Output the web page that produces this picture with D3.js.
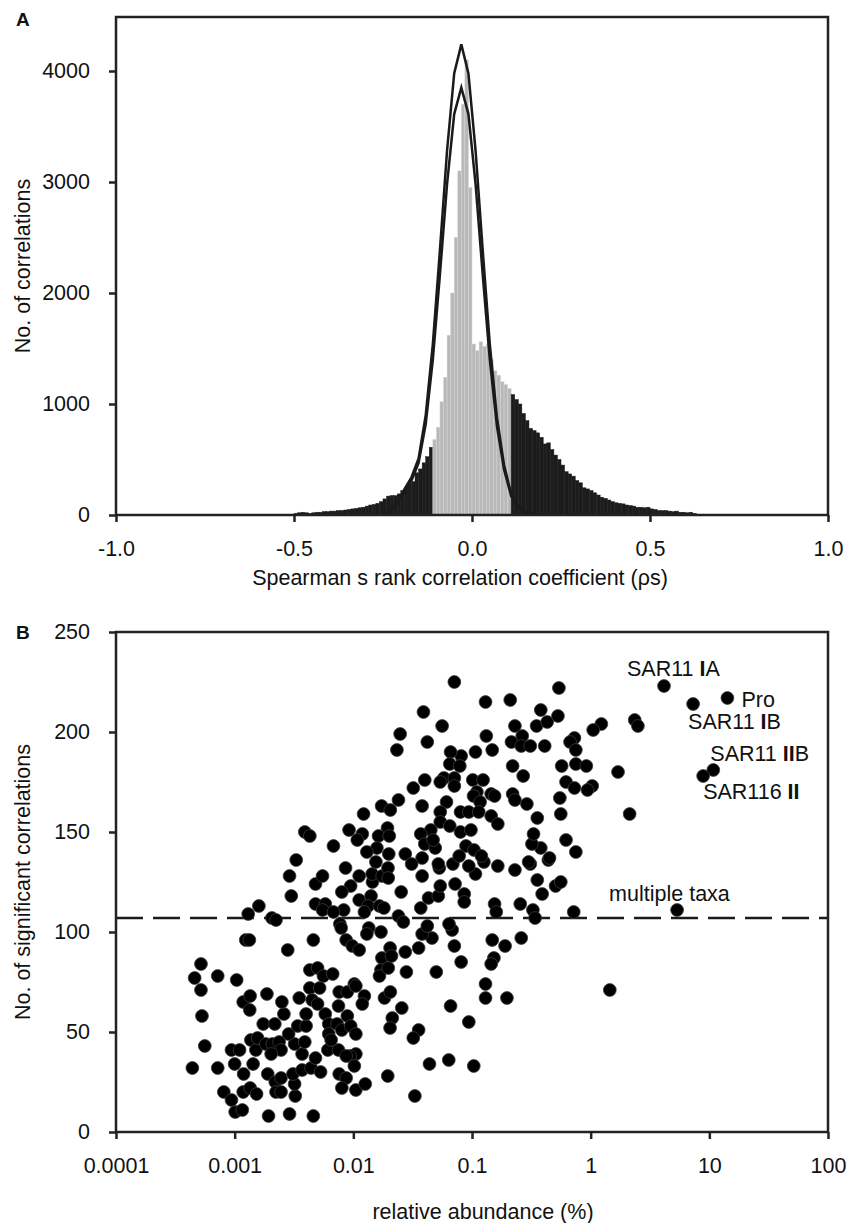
<!DOCTYPE html>
<html>
<head>
<meta charset="utf-8">
<script src="https://cdnjs.cloudflare.com/ajax/libs/d3/7.8.5/d3.min.js"></script>
<style>
  body { margin: 0; background: #fff; }
  svg { display: block; }
  text { font-family: "Liberation Sans", Arial, Helvetica, sans-serif; fill: #111; }
</style>
</head>
<body>
<div class="canva"></div>
<script>
// ---------- panel A data : histogram of Spearman rho (bins of 0.01 starting at -0.50)
const binStartFirst = -0.50;
const binWidth = 0.01;
const histCounts = [
  // -0.50 .. -0.12 (black)
  15, 20, 25, 20, 15, 20, 25, 25, 30, 30,
  35, 35, 40, 40, 45, 50, 55, 60, 65, 70,
  80, 90, 95, 105, 120, 145, 170, 175, 175, 190,
  220, 240, 280, 300, 380, 415, 470, 525, 610,
  // -0.11 .. 0.10 (grey, non significant)
  680, 790, 1020, 1240, 1620, 2000, 2500, 3100, 3700, 4100, 2950,
  1540, 1480, 1560, 1520, 1540, 1400, 1300, 1260, 1200, 1175, 1140,
  // 0.11 .. 0.62 (black)
  1085, 1040, 1000, 915, 850, 780, 760, 740, 700, 640,
  650, 590, 540, 500, 450, 390, 370, 350, 310, 290,
  245, 235, 220, 200, 180, 160, 150, 135, 120, 110,
  105, 100, 90, 85, 80, 70, 70, 65, 70, 55,
  50, 40, 40, 40, 35, 30, 35, 25, 25, 20,
  25, 15
];
const greyFrom = -0.11, greyTo = 0.10;

// fitted curves
const fitRho = [-0.25, -0.23, -0.21, -0.19, -0.17, -0.15, -0.13, -0.11, -0.09, -0.07, -0.05, -0.03,
                -0.01, 0.01, 0.03, 0.05, 0.07, 0.09, 0.11, 0.13, 0.15, 0.17, 0.19];
const fitOuter = [10, 40, 110, 230, 340, 510, 900, 1540, 2390, 3285, 3978, 4240,
                  3978, 3285, 2390, 1540, 880, 450, 190, 75, 25, 8, 2];
const fitInner = [9, 36, 100, 210, 310, 470, 820, 1400, 2170, 2983, 3612, 3850,
                  3612, 2983, 2170, 1400, 800, 410, 172, 68, 22, 7, 2];

const aXTicks = [-1.0, -0.5, 0.0, 0.5, 1.0];
const aYTicks = [0, 1000, 2000, 3000, 4000];

// ---------- panel B data : [relative abundance (%), no. of significant correlations]
const otus = [
  [0.00044,32],[0.00052,84],[0.00046,77],[0.00052,71],[0.00053,58],[0.00056,43],[0.00072,78],[0.00072,32],
  [0.00104,76],[0.00081,20],[0.00094,16],[0.00101,10],[0.00116,11],[0.00100,34],[0.00094,41],[0.00110,41],
  [0.00119,29],[0.00118,20],[0.00135,22],[0.00153,19],[0.00143,34],[0.00118,65],[0.00135,68],[0.00134,61],
  [0.00137,46],[0.00151,41],[0.00156,47],[0.00124,96],[0.00133,96],[0.00130,109],[0.00160,113],[0.00206,107],
  [0.00223,106],[0.00187,69],[0.00174,54],[0.00218,54],[0.00183,44],[0.00208,44],[0.00237,45],[0.00246,41],
  [0.00203,39],[0.00190,29],[0.00220,25],[0.00223,20],[0.00246,27],[0.00246,20],[0.00193,8],[0.0029,9],
  [0.0046,8],[0.00324,18],[0.0032,24],[0.0031,29],[0.0037,31],[0.0044,32],[0.0053,30],[0.0048,37],
  [0.0037,39],[0.0032,44],[0.0039,45],[0.00285,49],[0.0034,53],[0.0040,53],[0.0035,67],[0.0026,59],
  [0.0025,65],[0.0040,59],[0.0043,72],[0.0043,81],[0.0050,82],[0.0056,78],[0.0067,79],[0.0052,72],
  [0.0045,66],[0.0050,64],[0.0058,59],[0.0062,54],[0.0062,49],[0.0061,41],[0.0075,41],[0.0073,54],
  [0.0075,63],[0.0089,58],[0.0076,70],[0.0089,70],[0.0102,74],[0.0105,73],[0.0124,68],[0.0119,64],
  [0.0080,51],[0.0095,53],[0.0105,49],[0.0105,39],[0.0094,38],[0.0102,33],[0.0076,29],[0.0087,27],
  [0.0080,22],[0.0105,21],[0.0126,24],[0.0065,46],[0.0087,38],
  [0.0029,128],[0.0030,118],[0.0028,91],[0.0046,96],[0.0048,114],[0.0058,114],[0.0055,111],[0.0048,124],
  [0.0055,128],[0.0086,132],[0.0112,128],[0.0095,123],[0.0080,120],[0.0083,111],[0.0068,110],[0.0077,104],
  [0.0079,102],[0.0087,96],[0.0098,93],[0.0112,91],[0.0112,116],[0.0141,118],[0.0133,113],[0.0124,110],
  [0.0145,125],[0.0144,129],[0.0155,135],[0.0135,102],[0.0130,99],[0.0171,100],[0.0166,113],[0.0181,112],
  [0.0175,128],[0.0196,132],[0.0197,127],[0.0253,120],[0.024,108],[0.0264,105],[0.0174,87],[0.0171,81],
  [0.0166,78],[0.0197,82],[0.0204,92],[0.021,88],[0.0274,90],[0.028,80],[0.0183,67],[0.0205,70],
  [0.0256,62],[0.0213,57],[0.0204,52],[0.0355,51],[0.032,47],[0.0195,28],[0.033,18],[0.0438,34],
  [0.0637,36],[0.1035,33],[0.050,80],[0.066,63],[0.094,55],[0.081,85],[0.071,93],[0.068,101],
  [0.064,104],[0.046,97],[0.038,99],[0.042,103],[0.0355,92],[0.037,112],[0.043,117],[0.052,118],
  [0.054,123],[0.038,128],[0.053,132],[0.072,124],[0.086,119],[0.086,115],[0.107,129],[0.094,133],
  [0.069,134],[0.155,114],[0.16,110],[0.148,96],[0.19,93],[0.153,87],[0.145,84],[0.13,74],
  [0.13,67],[0.197,67],[0.26,97],[0.255,114],[0.326,111],[0.34,107],[0.23,131],[0.31,134],
  [0.355,126],[0.39,119],[0.506,123],[0.56,125],[0.72,110],[0.165,133],[0.126,135],[0.44,136],
  [1.45,71],
  [0.071,225],[0.13,215],[0.21,216],[0.54,222],[0.38,211],[0.35,203],[0.43,205],[0.53,208],
  [0.039,210],[0.056,203],[0.0248,199],[0.0233,191],[0.042,195],[0.132,198],[0.148,191],[0.23,203],
  [0.215,195],[0.265,198],[0.26,193],[0.31,193],[0.41,193],[0.73,197],[0.67,195],[0.75,191],
  [0.75,184],[0.57,183],[0.62,175],[0.73,172],[0.55,167],[0.56,159],[0.62,146],[0.75,140],
  [0.45,137],[0.38,142],[0.32,144],[0.33,149],[0.355,157],[0.29,164],[0.22,169],[0.23,166],
  [0.22,183],[0.27,178],[0.30,135],[0.107,190],[0.081,188],[0.066,190],[0.065,184],[0.079,183],
  [0.058,177],[0.071,177],[0.071,173],[0.054,175],[0.040,176],[0.1015,176],[0.124,176],[0.11,170],
  [0.103,168],[0.117,165],[0.145,169],[0.155,168],[0.032,172],[0.024,166],[0.038,163],[0.0173,163],
  [0.0205,161],[0.0122,159],[0.061,165],[0.054,160],[0.080,160],[0.094,160],[0.114,160],[0.145,158],
  [0.165,154],[0.054,155],[0.065,153],[0.080,150],[0.098,151],[0.045,151],[0.037,149],[0.040,144],
  [0.049,142],[0.038,137],[0.089,143],[0.104,141],[0.078,138],[0.12,138],[0.0274,139],[0.031,134],
  [0.052,134],[0.0194,152],[0.0163,148],[0.0201,148],[0.0199,139],[0.0158,142],[0.013,140],[0.0119,149],
  [0.0108,146],[0.0092,151],[0.0068,143],[0.0039,150],[0.0043,148],[0.0033,136],[0.047,146],
  [1.23,204],[1.05,201],[2.35,206],[2.5,203],[1.7,180],[2.13,159],[0.92,183],[1.03,173],[0.94,171]
];
// labelled taxa (name split so the roman numerals can be bold)
const labelledTaxa = [
  { name: ["SAR11 ", "I", "A"], abund: 4.15, n: 223 },
  { name: ["", "", "Pro"], abund: 14.2, n: 217 },
  { name: ["SAR11 ", "I", "B"], abund: 7.3, n: 214 },
  { name: ["SAR11 ", "II", "B"], abund: 10.8, n: 181 },
  { name: ["SAR116 ", "II", ""], abund: 8.87, n: 178 },
  { name: ["multiple taxa", "", ""], abund: 5.35, n: 111 }
];
// label placement relative to each dot (px)
const labelOffset = [[-37, -10], [14, 9], [-5, 25], [-3, -9], [0, 23], [-68, -9]];
const sigThreshold = 107;
const bXTicks = [0.0001, 0.001, 0.01, 0.1, 1, 10, 100];
const bYTicks = [0, 50, 100, 150, 200, 250];

// ---------- drawing
const W = 847, H = 1223;
const fontSize = 21.5;
const svg = d3.select(".canva").append("svg")
    .attr("width", W)
    .attr("height", H);

const left = 116, right = 828;
const axisColor = "#222";

function styleAxis(g) {
  g.select(".domain").remove();
  g.selectAll(".tick line").attr("stroke", axisColor).attr("stroke-width", 2.5);
  g.selectAll(".tick text").attr("font-size", fontSize).attr("fill", "#111");
}

// plain hyphen for negative numbers, like the original figure
const fmtRho = d => (d < 0 ? "-" : "") + Math.abs(d).toFixed(1);

// ===== Panel A =====
const aTop = 17, aBottom = 515;
const xA = d3.scaleLinear().domain([-1, 1]).range([left, right]);
const yA = d3.scaleLinear().domain([0, (aBottom - aTop) / 0.111]).range([aBottom, aTop]);

const gA = svg.append("g");

const bins = histCounts.map((c, i) => {
  const start = Math.round((binStartFirst + i * binWidth) * 100) / 100;
  return { start: start, count: c, grey: start >= greyFrom - 1e-9 && start <= greyTo + 1e-9 };
});

gA.selectAll("rect.bar")
  .data(bins)
  .enter()
  .append("rect")
    .attr("class", "bar")
    .attr("x", d => xA(d.start))
    .attr("width", d => xA(d.start + binWidth) - xA(d.start))
    .attr("y", d => yA(d.count))
    .attr("height", d => yA(0) - yA(d.count))
    .attr("fill", d => d.grey ? "#b8b8b8" : "#1c1c1c")
    .attr("stroke", d => d.grey ? "#d6d6d6" : "#1c1c1c")
    .attr("stroke-width", 0.5);

// fitted curves
const fitLine = d3.line()
    .x((d, i) => xA(fitRho[i]))
    .y(d => yA(d));

[fitOuter, fitInner].forEach(arr => {
  gA.append("path")
    .datum(arr)
    .attr("d", fitLine)
    .attr("fill", "none")
    .attr("stroke", "#1a1a1a")
    .attr("stroke-width", 2.5)
    .attr("stroke-linejoin", "miter");
});

// box
gA.append("rect")
  .attr("x", left).attr("y", aTop)
  .attr("width", right - left).attr("height", aBottom - aTop)
  .attr("fill", "none").attr("stroke", axisColor).attr("stroke-width", 2.5);

gA.append("g")
  .attr("transform", `translate(0,${aBottom})`)
  .call(d3.axisBottom(xA).tickValues(aXTicks).tickFormat(fmtRho).tickSize(7).tickPadding(19))
  .call(styleAxis);

gA.append("g")
  .attr("transform", `translate(${left},0)`)
  .call(d3.axisLeft(yA).tickValues(aYTicks).tickFormat(d3.format("d")).tickSize(7).tickPadding(19))
  .call(styleAxis);

gA.append("text")
  .attr("x", 460).attr("y", 585)
  .attr("text-anchor", "middle")
  .attr("font-size", fontSize)
  .text("Spearman s rank correlation coefficient (ρs)");

gA.append("text")
  .attr("transform", `translate(30,${(aTop + aBottom) / 2}) rotate(-90)`)
  .attr("text-anchor", "middle")
  .attr("font-size", fontSize)
  .text("No. of correlations");

svg.append("text")
  .attr("x", 16).attr("y", 26)
  .attr("font-size", 19).attr("font-weight", "bold")
  .text("A");

// ===== Panel B =====
const bTop = 632, bBottom = 1132;
const xB = d3.scaleLog().domain([0.0001, 100]).range([left, right]);
const yB = d3.scaleLinear().domain([0, 250]).range([bBottom, bTop]);

const gB = svg.append("g");

gB.append("line")
  .attr("x1", left).attr("x2", right)
  .attr("y1", yB(sigThreshold)).attr("y2", yB(sigThreshold))
  .attr("stroke", "#1a1a1a")
  .attr("stroke-width", 2.5)
  .attr("stroke-dasharray", "27,10");

gB.selectAll("circle.otu")
  .data(otus.concat(labelledTaxa.map(t => [t.abund, t.n])))
  .enter()
  .append("circle")
    .attr("class", "otu")
    .attr("cx", d => xB(d[0]))
    .attr("cy", d => yB(d[1]))
    .attr("r", 6.4)
    .attr("fill", "#000")
    .attr("stroke", "#3c3c3c")
    .attr("stroke-width", 0.8);

// labels
labelledTaxa.forEach((t, i) => {
  const txt = gB.append("text")
    .attr("x", xB(t.abund) + labelOffset[i][0])
    .attr("y", yB(t.n) + labelOffset[i][1])
    .attr("font-size", fontSize);
  txt.append("tspan").text(t.name[0]);
  if (t.name[1]) txt.append("tspan").attr("font-weight", "bold").text(t.name[1]);
  if (t.name[2]) txt.append("tspan").text(t.name[2]);
});

gB.append("rect")
  .attr("x", left).attr("y", bTop)
  .attr("width", right - left).attr("height", bBottom - bTop)
  .attr("fill", "none").attr("stroke", axisColor).attr("stroke-width", 2.5);

gB.append("g")
  .attr("transform", `translate(0,${bBottom})`)
  .call(d3.axisBottom(xB).tickValues(bXTicks).tickFormat(d => String(d)).tickSize(7).tickPadding(19))
  .call(styleAxis);

gB.append("g")
  .attr("transform", `translate(${left},0)`)
  .call(d3.axisLeft(yB).tickValues(bYTicks).tickFormat(d3.format("d")).tickSize(7).tickPadding(19))
  .call(styleAxis);

gB.append("text")
  .attr("x", 483).attr("y", 1219)
  .attr("text-anchor", "middle")
  .attr("font-size", fontSize)
  .text("relative abundance (%)");

gB.append("text")
  .attr("transform", `translate(30,${(bTop + bBottom) / 2}) rotate(-90)`)
  .attr("text-anchor", "middle")
  .attr("font-size", fontSize)
  .text("No. of significant correlations");

svg.append("text")
  .attr("x", 16).attr("y", 639)
  .attr("font-size", 19).attr("font-weight", "bold")
  .text("B");
</script>
</body>
</html>
